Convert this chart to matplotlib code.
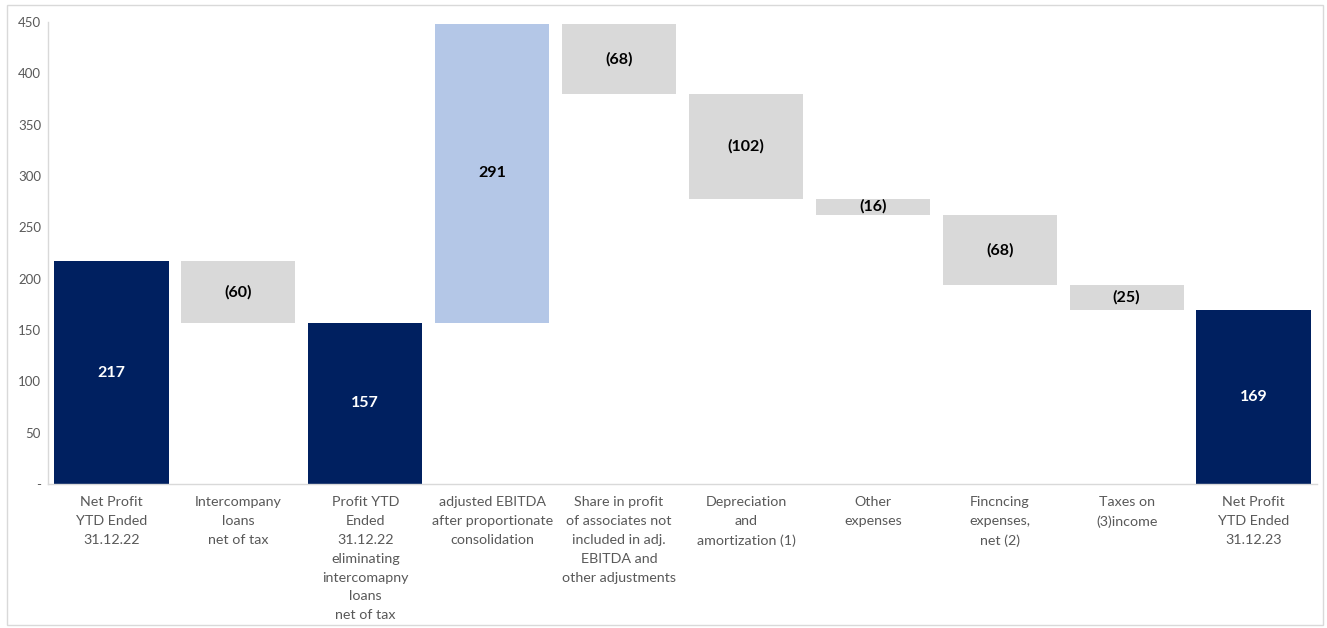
import matplotlib
matplotlib.use("Agg")
import matplotlib.pyplot as plt
from matplotlib.patches import Rectangle

categories = [
    "Net Profit\nYTD Ended\n31.12.22",
    "Intercompany\nloans\nnet of tax",
    "Profit YTD\nEnded\n31.12.22\neliminating\nintercomapny\nloans\nnet of tax",
    "adjusted EBITDA\nafter proportionate\nconsolidation",
    "Share in profit\nof associates not\nincluded in adj.\nEBITDA and\nother adjustments",
    "Depreciation\nand\namortization (1)",
    "Other\nexpenses",
    "Fincncing\nexpenses,\nnet (2)",
    "Taxes on\n(3)income",
    "Net Profit\nYTD Ended\n31.12.23",
]
values = [217, -60, 157, 291, -68, -102, -16, -68, -25, 169]
kinds = ["total", "delta", "total", "delta", "delta", "delta", "delta", "delta", "delta", "total"]
yticks = [0, 50, 100, 150, 200, 250, 300, 350, 400, 450]
ytick_labels = ["-", "50", "100", "150", "200", "250", "300", "350", "400", "450"]

NAVY = "#002060"
BLUE = "#B4C7E7"
GRAY = "#D9D9D9"
TXT = "#595959"

plt.rcParams["font.family"] = ["Lato", "DejaVu Sans"]

fig = plt.figure(figsize=(13.27, 6.28), dpi=100)
ax = fig.add_axes([48 / 1327, 1 - 484 / 628, (1317 - 48) / 1327, (484 - 22) / 628])

running = 0
for i, (v, k) in enumerate(zip(values, kinds)):
    if k == "total":
        bottom, height, color = 0, v, NAVY
        running = v
        label, tcolor = f"{v}", "white"
    else:
        if v >= 0:
            bottom, height, color = running, v, BLUE
            label = f"{v}"
        else:
            bottom, height, color = running + v, -v, GRAY
            label = f"({-v})"
        running += v
        tcolor = "black"
    ax.bar(i, height, bottom=bottom, width=0.9, color=color, zorder=2)
    ax.text(i, bottom + height / 2, label, ha="center", va="center",
            fontsize=11.5, fontweight="bold", color=tcolor, zorder=3)

ax.set_xlim(-0.5, len(values) - 0.5)
ax.set_ylim(0, 450)
ax.set_yticks(yticks)
ax.set_yticklabels(ytick_labels, fontsize=9.5, color=TXT)
ax.set_xticks(range(len(categories)))
ax.set_xticklabels(categories, fontsize=10.3, color=TXT, linespacing=1.68, va="top")
ax.tick_params(axis="both", length=0)
ax.tick_params(axis="x", pad=9)
ax.tick_params(axis="y", pad=5)
for s in ["top", "right"]:
    ax.spines[s].set_visible(False)
for s in ["left", "bottom"]:
    ax.spines[s].set_color("#D9D9D9")
    ax.spines[s].set_linewidth(1)

fig.patches.append(Rectangle((7 / 1327, 3 / 628), 1316 / 1327, 620 / 628,
                             transform=fig.transFigure, fill=False,
                             edgecolor="#D9D9D9", linewidth=1))

fig.savefig("out.png", dpi=100)
